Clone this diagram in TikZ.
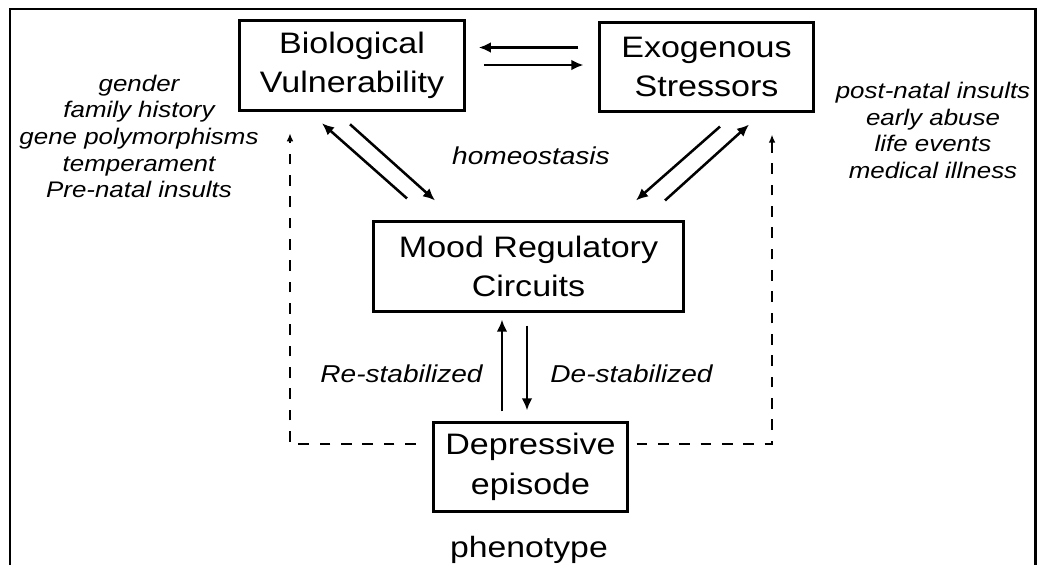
\documentclass[tikz,border=0pt]{standalone}
\usepackage{fontspec}
\setmainfont[FakeStretch=1.15]{Liberation Sans}
\usetikzlibrary{arrows.meta}
\tikzset{box/.style = {draw, line width=2.4pt, minimum height=67pt, inner sep=0pt,
                       align=center, font=\fontsize{22.2}{29.5}\selectfont},
         arr/.style = {line width=1.9pt, -{Latex[length=9pt,width=8pt]}},
         feedback/.style = {line width=1.6pt, dash pattern=on 8pt off 8pt,
                            -{Latex[length=6pt,width=5pt]}},
         factor/.style = {align=center, font=\fontsize{16.9}{20}\selectfont\itshape},
         tag/.style = {font=\fontsize{18.3}{22}\selectfont\itshape}}

\begin{document}
\begin{tikzpicture}[x=0.75pt,y=-0.75pt]
        \useasboundingbox (0,0) rectangle (1037,565);
        \draw[line width=1.6pt] (10,565) -- (10,9) -- (1035.5,9) -- (1035.5,565); % frame
        \node[box, minimum width=169pt] (bio) at (352,65.5) {Biological\\Vulnerability};
        \node[box, minimum width=160.7pt] (exo) at (706.5,67) {Exogenous\\Stressors};
        \node[box, minimum width=232.7pt] (mood) at (528.5,266.5) {Mood Regulatory\\Circuits};
        \node[box, minimum width=145.7pt] (dep) at (530.5,467) {Depressive\\episode};
        \node[font=\fontsize{22}{26}\selectfont] (pheno) at (529,549.5) {phenotype};
        \node[factor] (biofactors) at (139,136.5) {gender\\family history\\gene polymorphisms\\temperament\\Pre-natal insults};
        \node[factor] (exofactors) at (933,130.5) {post-natal insults\\early abuse\\life events\\medical illness};
        \node[tag] (homeo) at (531,156) {homeostasis};
        \node[tag] (restab) at (401.5,373.8) {Re-stabilized};
        \node[tag] (destab) at (631.5,373.5) {De-stabilized};
        % top pair
        \draw[arr] ([shift={(-19.3,-19.5)}]exo.west) -- ([shift={(12.5,-18)}]bio.east);
        \draw[arr] ([shift={(17.5,-0.5)}]bio.east) -- ([shift={(-14.3,-2)}]exo.west);
        % homeostasis loops
        \draw[arr] ([shift={(-121.5,-21.8)}]mood.north) -- ([shift={(-30,11.5)}]bio.south);
        \draw[arr] ([shift={(-2,12.5)}]bio.south) -- ([shift={(-93.5,-19.8)}]mood.north);
        \draw[arr] ([shift={(13.5,13.3)}]exo.south) -- ([shift={(107.5,-19.8)}]mood.north);
        \draw[arr] ([shift={(136.5,-19.8)}]mood.north) -- ([shift={(42.5,11.3)}]exo.south);
        % stability
        \draw[arr] ([shift={(-28.5,-9.3)}]dep.north) -- ([shift={(-26.5,6.8)}]mood.south);
        \draw[arr] ([shift={(-1.5,12.8)}]mood.south) -- ([shift={(-3.5,-10.3)}]dep.north);
        % feedback
        \draw[feedback] ([shift={(-16,-23)}]dep.west) -| ([shift={(-62,21.5)}]bio.south);
        \draw[feedback] ([shift={(7.3,-23)}]dep.east) -| ([shift={(65.5,21.3)}]exo.south);
    \end{tikzpicture}
\end{document}
